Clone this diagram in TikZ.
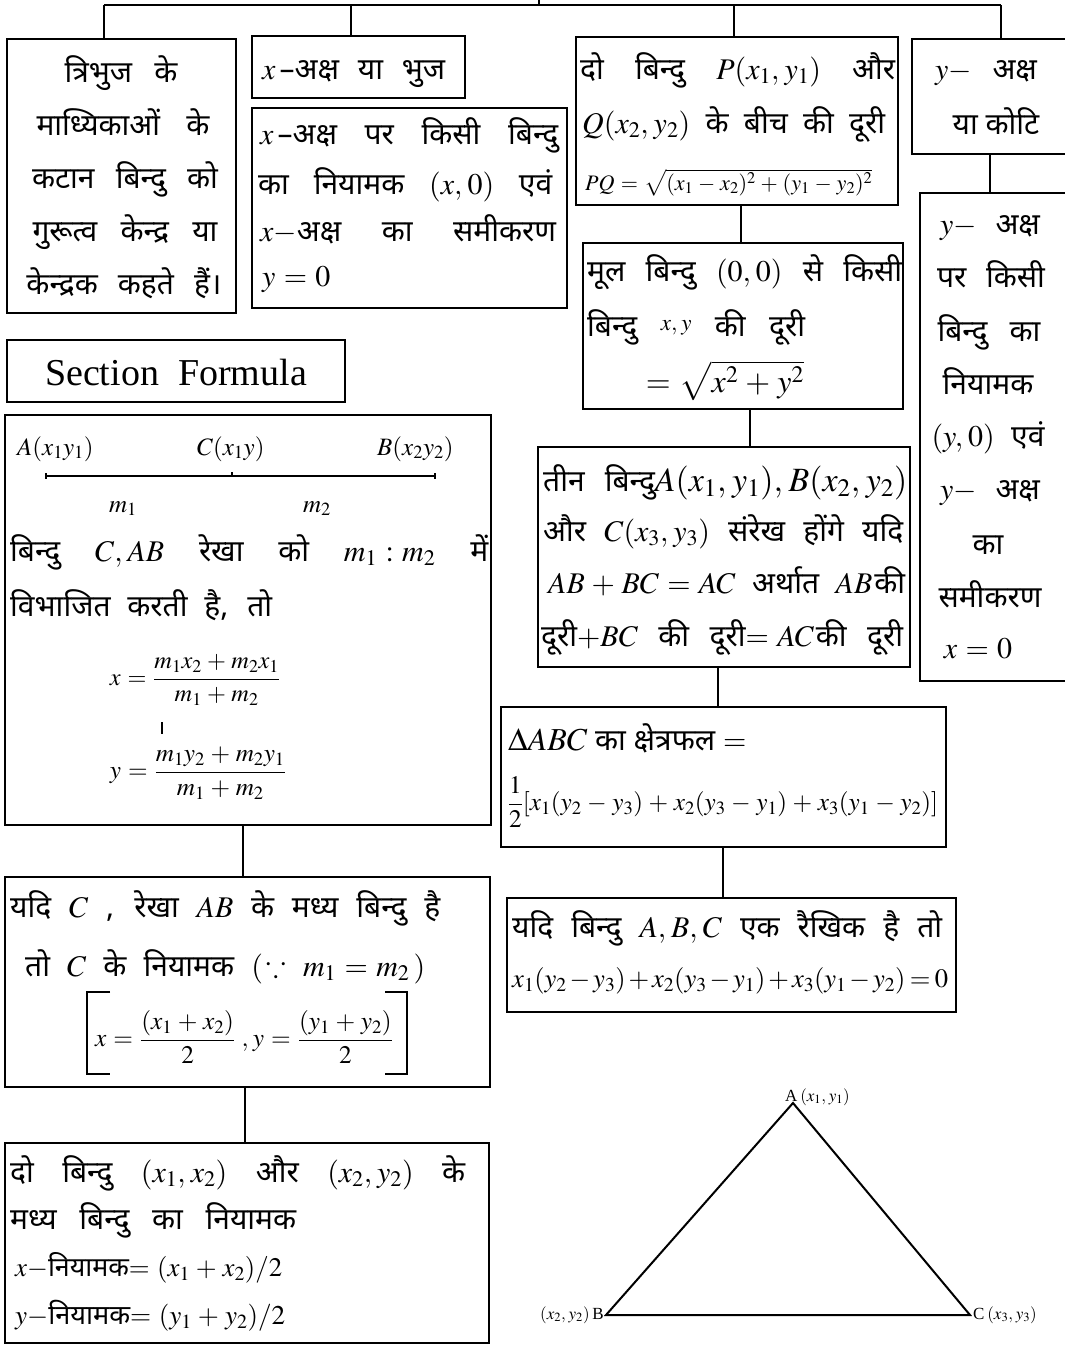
\documentclass[tikz,border=0pt]{standalone}
\usepackage{graphicx}
\usepackage{amsmath}
\usepackage{mathptmx}
\usepackage{amssymb}
\usepackage{fontspec}
\setmainfont{Liberation Serif}
\newfontfamily\dev[Script=Devanagari]{Noto Sans}
\newcommand\J[2]{\makebox[#1pt][s]{#2}}
\newcommand\RB[2]{\resizebox{#1pt}{!}{#2}}
\newcommand\mkbox[5]{\node[box, minimum width={(#4)-(#2)}, minimum height={(#5)-(#3)}] (#1) at ({((#2)+(#4))/2},{((#3)+(#5))/2}) {};}
\thinmuskip=3mu\relax
\medmuskip=4mu\relax
\thickmuskip=5mu\relax
\begin{document}
\begin{tikzpicture}[x=1pt,y=-1pt,
  box/.style={draw, line width=2.2pt, inner sep=0pt, outer sep=0pt, rectangle},
  dv/.style={font=\dev\fontsize{30}{34}\selectfont, inner sep=0pt, anchor=base west},
  dvc/.style={dv, anchor=base},
  lt/.style={font=\fontsize{25}{28}\selectfont, inner sep=0pt},
  conn/.style={line width=2.6pt},
  thin/.style={line width=1.3pt}]
\useasboundingbox (0,0) rectangle (1065,1345);

% ---------- boxes ----------
\mkbox{b1}{7}{39}{236}{313}
\mkbox{b2}{252}{36}{465}{98}
\mkbox{b3}{252}{108}{567}{308}
\mkbox{pq}{576}{37}{898}{205}
\mkbox{ya}{912}{39}{1066}{154}
\mkbox{yi}{920}{193}{1066}{681}
\mkbox{org}{583}{243}{903}{409}
\mkbox{thr}{538}{447}{910}{667}
\mkbox{area}{501}{707}{946}{847}
\mkbox{col}{507}{898}{956}{1012}
\mkbox{sf}{7}{340}{345}{402}
\mkbox{sec}{5}{415}{491}{825}
\mkbox{mid}{5}{877}{490}{1087}
\mkbox{bot}{5}{1143}{489}{1343}

% ---------- top connectors ----------
\coordinate (tl) at (104,5);
\coordinate (tr) at (1001,5);
\coordinate (tup) at (539,5);
\coordinate (tupe) at (539,0);
\coordinate (d2) at (351,5);
\coordinate (d3) at (734,5);
\draw[conn] (tl) -- (tr);
\draw[conn] (tup) -- (tupe);
\draw[conn] (tl) -- (tl |- b1.north);
\draw[conn] (d2) -- (d2 |- b2.north);
\draw[conn] (d3) -- (d3 |- pq.north);
\draw[conn] (tr) -- (tr |- ya.north);

% ---------- vertical connectors ----------
\coordinate (v1) at (741,0);
\coordinate (v2) at (750,0);
\coordinate (v3) at (718,0);
\coordinate (v4) at (723,0);
\coordinate (v5) at (990,0);
\coordinate (v6) at (243,0);
\coordinate (v7) at (245,0);
\draw[conn] (v1 |- pq.south) -- (v1 |- org.north);
\draw[conn] (v2 |- org.south) -- (v2 |- thr.north);
\draw[conn] (v3 |- thr.south) -- (v3 |- area.north);
\draw[conn] (v4 |- area.south) -- (v4 |- col.north);
\draw[conn] (v5 |- ya.south) -- (v5 |- yi.north);
\draw[conn] (v6 |- sec.south) -- (v6 |- mid.north);
\draw[conn] (v7 |- mid.south) -- (v7 |- bot.north);

% ---------- box 1 ----------
\node[dvc] (b1a) at (121,82) {\J{113}{त्रिभुज के}};
\node[dvc] (b1b) at (123,135) {\J{173}{माध्यिकाओं के}};
\node[dvc] (b1c) at (125,188) {\J{186}{कटान बिन्दु को}};
\node[dvc] (b1d) at (125,241) {\J{185}{गुरूत्व केन्द्र या}};
\node[dvc] (b1e) at (124,294) {\J{195}{केन्द्रक कहते हैं।}};

% ---------- box 2, 3 ----------
\node[dv] (b2a) at (262,79) {\J{183}{$x$\kern4pt–अक्ष या भुज}};
\node[dv] (b3a) at (260,144) {\J{298}{$x$\kern4pt–अक्ष पर किसी बिन्दु}};
\node[dv] (b3b) at (258,194) {\J{294}{का नियामक $(x,0)$ एवं}};
\node[dv] (b3c) at (260,241) {\J{296}{$x-$अक्ष का समीकरण}};
\node[dv] (b3d) at (262,286) {$y=0$};

% ---------- PQ ----------
\node[dv] (pqa) at (580,79) {\J{315}{दो बिन्दु $P(x_1,y_1)$ और}};
\node[dv] (pqb) at (582,133) {\J{303}{$Q(x_2,y_2)$ के बीच की दूरी}};
\node[dv] (pqc) at (585,190) {\RB{287}{$PQ=\sqrt{(x_1-x_2)^2+(y_1-y_2)^2}$}};

% ---------- y axis ----------
\node[dvc] (yaa) at (986,79) {\J{102}{$y-$ अक्ष}};
\node[dvc] (yab) at (996,134) {या कोटि};
\node[dvc] (yia) at (990,234) {\J{100}{$y-$ अक्ष}};
\node[dvc] (yib) at (991,287) {\J{108}{पर किसी}};
\node[dvc] (yic) at (989,341) {\J{103}{बिन्दु का}};
\node[dvc] (yid) at (988,394) {नियामक};
\node[dvc] (yie) at (988,446) {\J{113}{$(y,0)$ एवं}};
\node[dvc] (yif) at (990,499) {\J{100}{$y-$ अक्ष}};
\node[dvc] (yig) at (988,554) {का};
\node[dvc] (yih) at (990,607) {समीकरण};
\node[dvc] (yii) at (978,658) {$x=0$};

% ---------- origin ----------
\node[dv] (oa) at (587,281) {\J{315}{मूल बिन्दु $(0,0)$ से किसी}};
\node[dv] (ob) at (587,336) {\J{218}{बिन्दु \raisebox{6pt}{\fontsize{23}{25}\selectfont$x,y$} की दूरी}};
\node[dvc] (oc) at (725,392) {\fontsize{32}{34}\selectfont$=\sqrt{x^2+y^2}$};

% ---------- three points ----------
\node[dv] (ta) at (543,491) {\J{364}{तीन बिन्दु{\fontsize{34}{36}\selectfont$A(x_1,y_1),B(x_2,y_2)$}}};
\node[dv] (tb) at (543,541) {\J{360}{और $C(x_3,y_3)$ संरेख होंगे यदि}};
\node[dv] (tc) at (548,593) {\J{357}{$AB+BC=AC$ अर्थात $AB$\kern2ptकी}};
\node[dv] (td) at (541,646) {\J{362}{दूरी$+BC$ की दूरी$=AC$\kern2ptकी दूरी}};

% ---------- area ----------
\node[dv] (aa) at (508,750) {{\fontsize{32}{34}\selectfont$\Delta ABC$} का क्षेत्रफल $=$};
\node[dv, anchor=west] (ab) at (508,802) {\RB{430}{$\dfrac{1}{2}[x_1(y_2-y_3)+x_2(y_3-y_1)+x_3(y_1-y_2)]$}};

% ---------- collinear ----------
\node[dv] (ca) at (512,937) {\J{430}{यदि बिन्दु $A,B,C$ एक रैखिक है तो}};
\node[dv] (cb) at (512,987) {\RB{436}{\medmuskip=2mu\thickmuskip=3mu$x_1(y_2-y_3)+x_2(y_3-y_1)+x_3(y_1-y_2)=0$}};

% ---------- section formula ----------
\node[inner sep=0pt, font=\fontsize{38}{42}\selectfont] (sft) at (176,372) {Section\ \ Formula};

\node[lt, anchor=base west] (sA) at (17,455) {$A(x_1y_1)$};
\node[lt, anchor=base west] (sC) at (197,455) {$C(x_1y)$};
\node[lt, anchor=base west] (sB) at (377,455) {$B(x_2y_2)$};
\coordinate (la) at (46,476);
\coordinate (lb) at (435,476);
\coordinate (lc) at (232,476);
\draw[line width=2pt] (la) -- (lb);
\draw[line width=2pt] (la) ++(0,-3) -- ++(0,6);
\draw[line width=2pt] (lb) ++(0,-3) -- ++(0,6);
\draw[line width=1.5pt] (lc) -- ++(0,-4);
\node[lt, anchor=base] (sm1) at (123,512) {$m_1$};
\node[lt, anchor=base] (sm2) at (317,512) {$m_2$};
\node[dv] (sl1) at (10,561) {\J{478}{बिन्दु $C,AB$ रेखा को $m_1:m_2$ में}};
\node[dv] (sl2) at (10,616) {\J{262}{विभाजित करती है, तो}};
\node[lt] (sx) at (195,680) {\RB{170}{$x=\dfrac{m_1x_2+m_2x_1}{m_1+m_2}$}};
\coordinate (tk) at (162,722);
\draw[line width=2pt] (tk) -- ++(0,12);
\node[lt] (sy) at (198,773) {\RB{176}{$y=\dfrac{m_1y_2+m_2y_1}{m_1+m_2}$}};

% ---------- midpoint ----------
\node[dv] (ma) at (10,917) {\J{430}{यदि $C$ , रेखा $AB$ के मध्य बिन्दु है}};
\node[dv] (mb) at (25,976) {\J{400}{तो $C$ के नियामक $($\kern3pt$\because$ $m_1=m_2$\kern4pt$)$}};
\coordinate (bl1) at (110,992);
\coordinate (bl2) at (87,1074);
\coordinate (br1) at (385,992);
\coordinate (br2) at (407,1074);
\draw[thin] (bl1) -| (bl2) -- (bl2 -| bl1);
\draw[thin] (br1) -| (br2) -- (br2 -| br1);
\node[lt] (mf) at (244,1037) {\RB{298}{$x=\dfrac{(x_1+x_2)}{2}\ ,y=\dfrac{(y_1+y_2)}{2}$}};

% ---------- bottom ----------
\node[dv] (ba) at (10,1182) {\J{455}{दो बिन्दु $(x_1,x_2)$ और $(x_2,y_2)$ के}};
\node[dv] (bb) at (10,1229) {\J{286}{मध्य बिन्दु का नियामक}};
\node[dv] (bc) at (15,1276) {\RB{267}{$x-$नियामक$=(x_1+x_2)/2$}};
\node[dv] (bd) at (15,1324) {\RB{270}{$y-$नियामक$=(y_1+y_2)/2$}};

% ---------- triangle ----------
\coordinate (tA) at (793,1103);
\coordinate (tB) at (606,1315);
\coordinate (tC) at (970,1315);
\draw[line width=2pt, line join=miter] (tA) -- (tB) -- (tC) -- cycle;
\node[inner sep=0pt, anchor=base west, font=\fontsize{17}{19}\selectfont] (lA) at (785,1101) {A\,$(x_1,y_1)$};
\node[inner sep=0pt, anchor=base east, font=\fontsize{17}{19}\selectfont] (lB) at (604,1319) {$(x_2,y_2)$\,B};
\node[inner sep=0pt, anchor=base west, font=\fontsize{17}{19}\selectfont] (lC) at (973,1319) {C\,$(x_3,y_3)$};
\end{tikzpicture}
\end{document}
